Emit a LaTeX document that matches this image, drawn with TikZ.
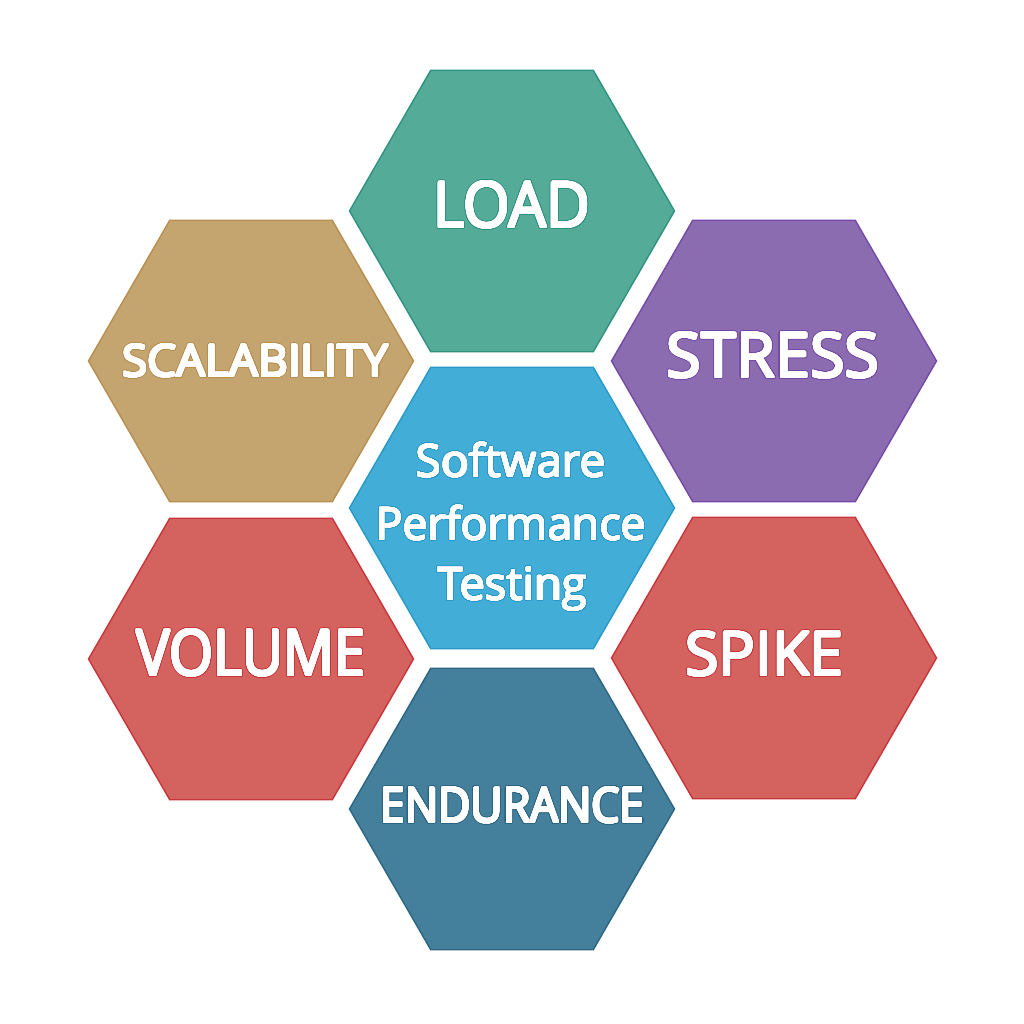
\documentclass[tikz,border=0pt]{standalone}
\usepackage{fontspec}
\setmainfont{Open Sans}
\usepackage{graphicx}
\usepackage[copies]{contour}
\contournumber{32}
\usetikzlibrary{shapes.geometric}
\definecolor{loadF}{HTML}{54AB98}\definecolor{loadD}{HTML}{2E937E}
\definecolor{scalF}{HTML}{C5A56F}\definecolor{scalD}{HTML}{B88E4E}
\definecolor{strF}{HTML}{8B6CB1}\definecolor{strD}{HTML}{7448A6}
\definecolor{cenF}{HTML}{42AED7}\definecolor{cenD}{HTML}{2798C8}
\definecolor{volF}{HTML}{D4625E}\definecolor{volD}{HTML}{C8343A}
\definecolor{spkF}{HTML}{D4625E}\definecolor{spkD}{HTML}{C8343A}
\definecolor{endF}{HTML}{447F9B}\definecolor{endD}{HTML}{2A6683}
% outlined, thickened white text: #1 outline colour, #2 text, #3 outer radius, #4 thickening
\newcommand{\outlinetext}[4]{%
  \rlap{\contourlength{#3}\contour{#1}{#2}}%
  {\contourlength{#4}\contour{white}{#2}}}
\newcommand{\hexlbl}[4]{\outlinetext{#1}{\resizebox{#2}{#3}{#4}}{2.1bp}{1.05bp}}
\newcommand{\cenlbl}[2]{\outlinetext{cenD}{\scalebox{#1}[1]{\fontsize{45bp}{50bp}\selectfont #2}}{1.5bp}{0.55bp}}
\tikzset{
  hexbox/.style={regular polygon, regular polygon sides=6,
    minimum size=325bp, inner sep=0pt, line width=1.4bp},
  lbl/.style={inner sep=0pt, text=white}
}
\begin{document}
\begin{tikzpicture}[x=1bp,y=-1bp]
\useasboundingbox (0,0) rectangle (1024,1024);
\node[hexbox, fill=loadF, draw=loadD] (load) at (512,211) {};
\node[hexbox, fill=scalF, draw=scalD] (scal) at (251,361) {};
\node[hexbox, fill=strF, draw=strD] (stress) at (774,361) {};
\node[hexbox, fill=cenF, draw=cenD] (center) at (512,508) {};
\node[hexbox, fill=volF, draw=volD] (volume) at (251,659) {};
\node[hexbox, fill=spkF, draw=spkD] (spike) at (774,658) {};
\node[hexbox, fill=endF, draw=endD] (endur) at (512,809) {};
\node[lbl] (loadt) at (512,206) {\hexlbl{loadD}{157bp}{46bp}{LOAD}};
\node[lbl] (scalt) at (255.5,362) {\hexlbl{scalD}{266bp}{32bp}{SCALABILITY}};
\node[lbl] (strt) at (773,356.5) {\hexlbl{strD}{213bp}{45bp}{STRESS}};
\node[lbl] (volt) at (251,654) {\hexlbl{volD}{229bp}{46bp}{VOLUME}};
\node[lbl] (spkt) at (764.5,655) {\hexlbl{spkD}{158bp}{44bp}{SPIKE}};
\node[lbl] (endt) at (512.5,806.5) {\hexlbl{endD}{264bp}{35bp}{ENDURANCE}};
\node[lbl, anchor=base] (c1) at (511,477) {\cenlbl{1.02}{Software}};
\node[lbl, anchor=base] (c2) at (511,540) {\cenlbl{0.99}{Performance}};
\node[lbl, anchor=base] (c3) at (512.5,600) {\cenlbl{1.01}{Testing}};
\end{tikzpicture}
\end{document}
